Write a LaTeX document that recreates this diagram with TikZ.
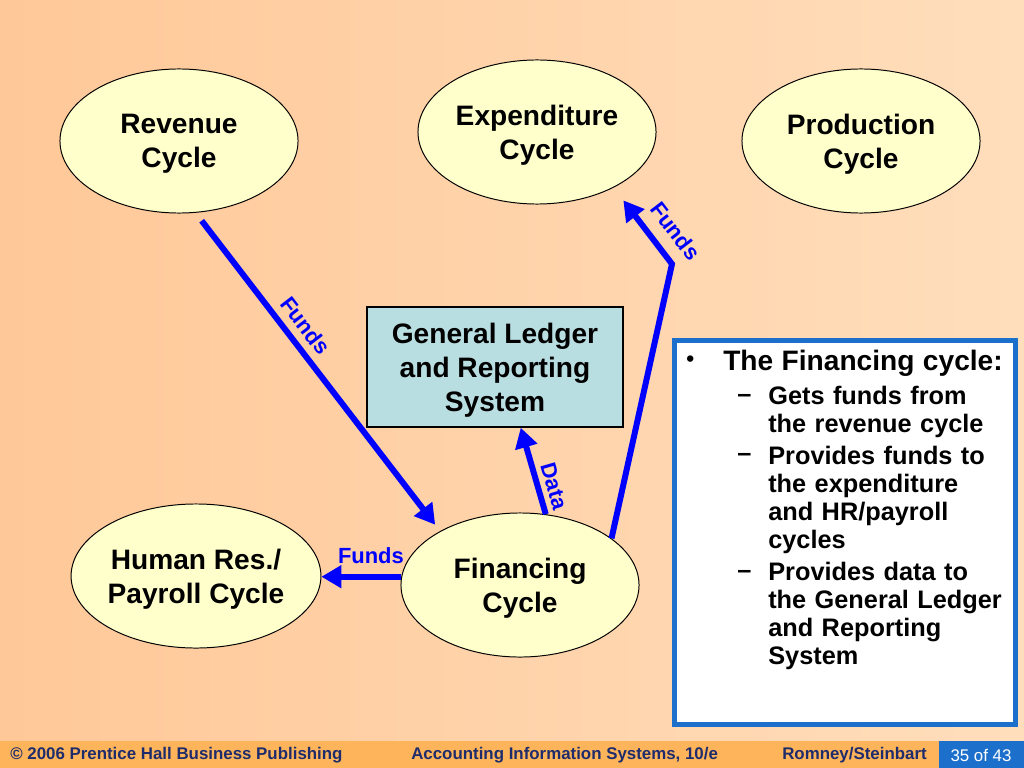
\documentclass[tikz,border=0pt]{standalone}
\usepackage{fontspec}
\setmainfont{Liberation Sans}
\usepackage{xcolor}
\usepackage{tikz}
\usetikzlibrary{shapes.geometric,arrows.meta,calc}

\definecolor{bgleft}{HTML}{FFC898}
\definecolor{bgright}{HTML}{FFDEBC}
\definecolor{footband}{HTML}{FDB45A}
\definecolor{pageblue}{HTML}{1C6FCB}
\definecolor{footnavy}{HTML}{1F2C6C}
\definecolor{cyclefill}{HTML}{FFFFCC}
\definecolor{ledgerfill}{HTML}{B9DEE2}
\definecolor{arrowblue}{HTML}{0000FF}

\newcommand{\cyclefont}{\fontsize{20}{24.1}\selectfont\bfseries}
\newcommand{\flowfont}{\fontsize{15.6}{18}\selectfont\bfseries}
\newcommand{\notetitlefont}{\fontsize{20}{24}\selectfont\bfseries}
\newcommand{\notefont}{\fontsize{18}{19.84}\selectfont\bfseries}
\newcommand{\footfont}{\fontsize{12}{14}\selectfont}

\begin{document}
\begin{tikzpicture}[x=0.025cm, y=-0.025cm,
  oval/.style = {draw, ellipse, fill=cyclefill, line width=0.7pt, minimum width=5.95cm, minimum height=3.6cm, inner sep=0pt, align=center, font=\cyclefont, text depth=-1.4pt},
  ledger/.style = {draw, rectangle, fill=ledgerfill, line width=1pt, minimum width=6.4cm, minimum height=3cm, inner sep=0pt, align=center, font=\cyclefont, text depth=-2.8pt},
  flow/.style = {draw=arrowblue, line width=4.25pt, -{Triangle[length=5mm,width=5.5mm]}},
  flowlabel/.style = {text=arrowblue, font=\flowfont, inner sep=0pt},
  notebox/.style = {draw=pageblue, fill=white, line width=3.5pt, minimum width=8.525cm, minimum height=9.6cm, inner sep=0pt},
  foot/.style = {text=footnavy, font=\footfont\bfseries, inner sep=0pt, anchor=west}]
\useasboundingbox (0,0) rectangle (1024,768);
\shade[left color=bgleft, right color=bgright] (0,0) rectangle (1024,741);
\fill[footband] (0,741) rectangle (1024,768);
\fill[pageblue] (939,741) rectangle (1024,768);

\node[oval] (rev) at (179,141) {Revenue\\Cycle};
\node[oval] (exp) at (537,132) {Expenditure\\Cycle};
\node[oval] (prod) at (861,141) {Production\\Cycle};
\node[oval] (hr) at (196,576) {Human Res./\\Payroll Cycle};
\node[oval] (fin) at (520,585) {Financing\\Cycle};
\node[ledger] (gl) at (495,367) {General Ledger\\and Reporting\\System};
\coordinate (bend) at (672,264);

\draw[flow, shorten <=2.5mm, shorten >=2mm] (rev.-77) -- node[flowlabel, sloped, above=5.3pt, pos=0.39] {Funds} (fin.146);
\draw[flow, shorten >=4mm] (fin.27) -- (bend) -- node[flowlabel, sloped, above=8.5pt, pos=0.25] {Funds} (exp.-36);
\draw[flow] (fin.70) -- node[flowlabel, sloped, above=3.5pt, pos=0.27] {Data} ($(gl.south)!0.2!(gl.south east)$);
\draw[flow] (fin.176) -- node[flowlabel, above=7pt, pos=0.38] {Funds} (fin.176 -| hr.east);

\node[notebox] (note) at (845,532.5) {};
\node[anchor=north west, inner sep=0pt, text width=8.3cm, align=left, font=\notefont] (notetext) at (686,350) {\parindent=0pt
  {\notetitlefont\leftskip=9.25mm \noindent\llap{\makebox[9.25mm][l]{\raisebox{0.3ex}{\fontsize{16}{16}\selectfont\textbullet}}}The Financing cycle:\par}
  \vspace{1.5mm}
  {\leftskip=20.5mm \noindent\llap{\makebox[7.75mm][l]{\raisebox{0.6mm}{–}}}Gets funds from\\the revenue cycle\par}
  \vspace{1mm}
  {\leftskip=20.5mm \noindent\llap{\makebox[7.75mm][l]{\raisebox{0.6mm}{–}}}Provides funds to\\the expenditure\\and HR/payroll\\cycles\par}
  \vspace{1.25mm}
  {\leftskip=20.5mm \noindent\llap{\makebox[7.75mm][l]{\raisebox{0.6mm}{–}}}Provides data to\\the General Ledger\\and Reporting\\System\par}};

\node[foot] (copy) at (10,755) {© 2006 Prentice Hall Business Publishing};
\node[foot] (book) at (411,755) {Accounting Information Systems, 10/e};
\node[foot] (authors) at (782,755) {Romney/Steinbart};
\node[text=white, font=\footfont, inner sep=0pt] (page) at (981,755) {35 of 43};
\end{tikzpicture}
\end{document}
